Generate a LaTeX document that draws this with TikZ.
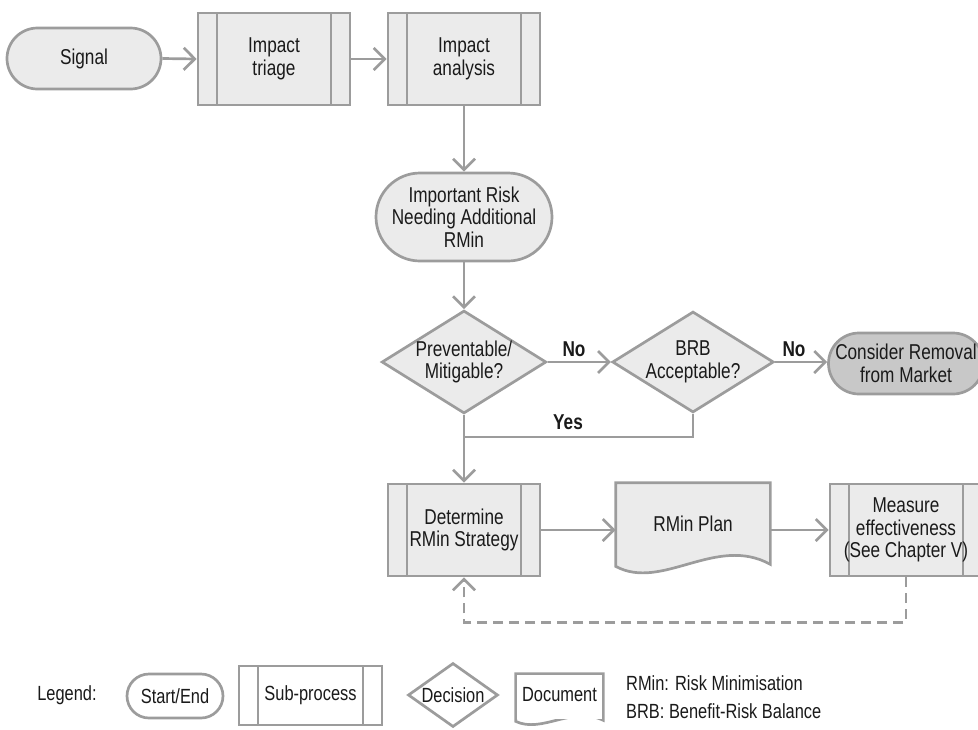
\documentclass[tikz,border=0pt]{standalone}
\usepackage{fontspec}
\setmainfont{Liberation Sans}[FakeStretch=0.8]
\usetikzlibrary{shapes.misc,shapes.geometric,arrows.meta,calc,backgrounds}

\definecolor{edge}{HTML}{9C9C9C}
\definecolor{boxfill}{HTML}{EBEBEB}
\definecolor{endfill}{HTML}{C8C8C8}
\definecolor{ink}{HTML}{1A1A1A}

% Document symbol: flat top, wavy bottom (#2 scales the wave)
\newcommand\docoutline[2]{%
  (#1.south east) -- (#1.north east) -- (#1.north west) -- ($(#1.south west)+(0,2*#2)$)
  .. controls ($(#1.south west)!0.3!(#1.south east)+(0,27*#2)$)
     and ($(#1.south west)!0.65!(#1.south east)+(0,-30*#2)$) .. (#1.south east) -- cycle}

\tikzset{
  base/.style={draw=edge, line width=2.7pt, text=ink,
    font=\fontsize{21.5}{22.5}\selectfont, align=center, inner sep=0pt},
  terminal/.style={base, rounded rectangle, fill=boxfill},
  subproc/.style={base, rectangle, fill=boxfill,
    path picture={\draw[edge, line width=2.7pt]
      ([xshift=19pt]path picture bounding box.north west) -- ([xshift=19pt]path picture bounding box.south west)
      ([xshift=-19pt]path picture bounding box.north east) -- ([xshift=-19pt]path picture bounding box.south east);}},
  decision/.style={base, diamond, aspect=1.6, fill=boxfill},
  docnode/.style={base, draw=none, rectangle},
  docline/.style={draw=edge, line width=2.7pt, line join=miter},
  keyshape/.style={fill=white, font=\fontsize{20.5}{22.5}\selectfont},
  lab/.style={text=ink, font=\fontsize{21.5}{22.5}\selectfont, inner sep=0pt},
  keylab/.style={lab, font=\fontsize{20.5}{22.5}\selectfont},
  boldlab/.style={lab, font=\fontsize{21.5}{22.5}\selectfont\bfseries},
  line/.style={draw=edge, line width=2.7pt},
  flow/.style={line, -{Straight Barb[length=11pt,width=22pt]}},
  feedback/.style={flow, dash pattern=on 10pt off 6pt},
}

\begin{document}
\begin{tikzpicture}[x=1pt, y=-1pt]
\useasboundingbox (0,0) rectangle (978,729);
\clip (0,0) rectangle (978,729);

% main flow
\node[terminal, minimum width=154pt, minimum height=61pt] (signal) at (84,58.5) {Signal};
\node[subproc, minimum width=152pt, minimum height=92pt] (triage) at (274,59) {Impact\\triage};
\node[subproc, minimum width=152pt, minimum height=92pt] (analysis) at (464,59) {Impact\\analysis};
\node[terminal, minimum width=176pt, minimum height=88pt] (risk) at (464,217) {Important Risk\\Needing Additional\\RMin};
\node[decision, minimum width=152pt, minimum height=90pt] (prevent) at (464,362) {Preventable/\\Mitigable?};
\node[decision, minimum width=152pt, minimum height=90pt] (brb) at (693,362) {BRB\\Acceptable?};
\node[terminal, fill=endfill, minimum width=152pt, minimum height=61pt] (removal) at (906,363.5) {Consider Removal\\from Market};
\node[subproc, minimum width=152pt, minimum height=92pt] (strategy) at (464,530) {Determine\\RMin Strategy};
\node[docnode, minimum width=152pt, minimum height=79pt] (plan) at (693,523.5) {RMin Plan};
\node[subproc, minimum width=152pt, minimum height=92pt] (measure) at (906,530) {Measure\\effectiveness\\(See Chapter V)};

% legend
\node[keylab] (legendtitle) at (67,695) {Legend:};
\node[terminal, keyshape, minimum width=96pt, minimum height=44pt] (keyterm) at (175,696) {Start/End};
\node[subproc, keyshape, minimum width=143pt, minimum height=59pt] (keysub) at (310.5,695.5) {Sub-process};
\node[decision, keyshape, minimum width=90pt, minimum height=64pt] (keydec) at (453,695) {Decision};
\node[docnode, keyshape, minimum width=85pt, minimum height=44pt] (keydoc) at (559.5,697) {\raisebox{5pt}{Document}};
\node[keylab, anchor=west] (keyrmin) at (626,683) {RMin: Risk Minimisation};
\node[keylab, anchor=west] (keybrb) at (626,711) {BRB: Benefit-Risk Balance};

\begin{scope}[on background layer]
  \filldraw[docline, fill=boxfill] \docoutline{plan}{1};
  \filldraw[docline, fill=white] \docoutline{keydoc}{0.5};
\end{scope}

% connectors
\draw[flow] (signal.east) -- (triage.west);
\draw[flow] (triage.east) -- (analysis.west);
\draw[flow] (analysis.south) -- (risk.north);
\draw[flow] (risk.south) -- (prevent.north);
\draw[flow] (prevent.east) -- (brb.west);
\draw[flow] (brb.east) -- (brb.east -| removal.west);
\draw[flow] (prevent.south) -- (strategy.north);
\coordinate (yesjoin) at (464,437);
\draw[line] (brb.south) |- (yesjoin);
\draw[flow] (strategy.east) -- (strategy.east -| plan.west);
\draw[flow] (strategy.east -| plan.east) -- (measure.west);
\draw[feedback] (measure.south) -- ++(0,45) -| (strategy.south);

% branch labels
\node[boldlab] (nolabelA) at (574,349) {No};
\node[boldlab] (nolabelB) at (794,349) {No};
\node[boldlab] (yeslabel) at (568,422) {Yes};
\end{tikzpicture}
\end{document}
